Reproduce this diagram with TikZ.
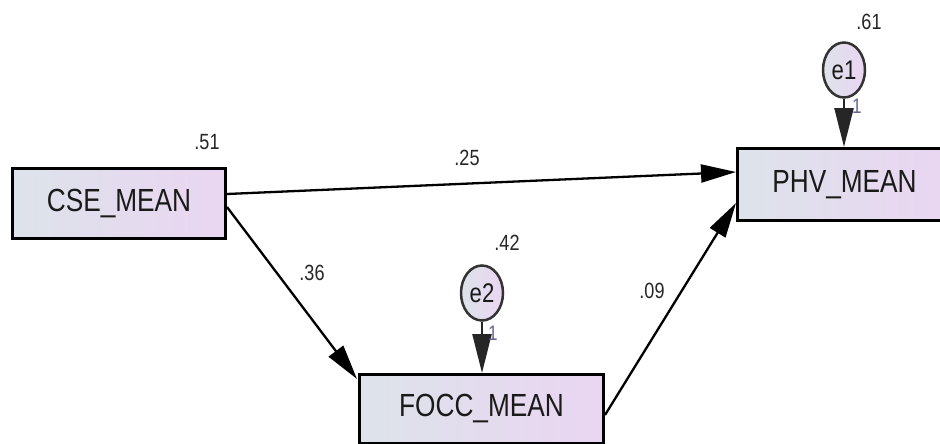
\documentclass[tikz,border=0pt]{standalone}
\usepackage{fontspec}
\setmainfont{Liberation Sans}[FakeStretch=0.82]
\usetikzlibrary{arrows.meta,calc,shapes.geometric}
\definecolor{fillL}{HTML}{DDE3EA}
\definecolor{fillR}{HTML}{EAD5F2}
\definecolor{txt}{HTML}{1A1A1A}
\tikzset{
  varbox/.style={draw=black, line width=3pt, left color=fillL, right color=fillR,
    inner sep=0pt, font=\fontsize{32}{32}\selectfont, text=txt},
  errnode/.style={ellipse, draw=black!80, line width=2.5pt, left color=fillL, right color=fillR,
    inner sep=0pt, minimum width=42pt, minimum height=55pt, font=\fontsize{27}{27}\selectfont, text=txt},
  path/.style={line width=2.3pt, draw=black, -{Triangle[length=35pt,width=18pt]}},
  epath/.style={line width=2.3pt, draw=black!85, -{Triangle[length=39pt,width=19pt]}},
  coef/.style={inner sep=0pt, font=\fontsize{22}{22}\selectfont, text=black!85},
  one/.style={inner sep=0pt, font=\fontsize{21}{21}\selectfont, text=black!70!blue!60}
}
\begin{document}
\begin{tikzpicture}[x=1pt,y=-1pt]
\clip (0,0) rectangle (940,444);
\fill[white] (0,0) rectangle (940,444);
% variable boxes
\node[varbox, minimum width=213pt, minimum height=70pt] (cse) at (119,203.5) {CSE\_MEAN};
\node[varbox, minimum width=214pt, minimum height=72pt] (phv) at (844.5,184.5) {PHV\_MEAN};
\node[varbox, minimum width=244pt, minimum height=69pt] (focc) at (481.5,409) {FOCC\_MEAN};
% error terms
\node[errnode] (e1) at (844,70) {e1};
\node[errnode] (e2) at (482,293) {e2};
% paths
\draw[path] ($(cse.east)+(0,-9.5)$) -- ($(phv.west)+(0,-12.5)$);
\draw[path] ($(cse.east)+(0,3.5)$) -- ($(focc.north west)+(-1,6)$);
\draw[path] ($(focc.east)+(0,6)$) -- ($(phv.west)+(0,18.5)$);
\draw[epath] (e1.south) -- (phv.north -| e1.south);
\draw[epath] (e2.south) -- (focc.north -| e2.south);
% coefficients
\node[coef] (r51) at (207,142) {.51};
\node[coef] (r61) at (869,22) {.61};
\node[coef] (r42) at (507,243) {.42};
\node[coef] (b25) at (467,158) {.25};
\node[coef] (b36) at (312,273) {.36};
\node[coef] (b09) at (652,291) {.09};
\node[one] (o1) at (857,106) {1};
\node[one] (o2) at (493,333) {1};
\end{tikzpicture}
\end{document}
